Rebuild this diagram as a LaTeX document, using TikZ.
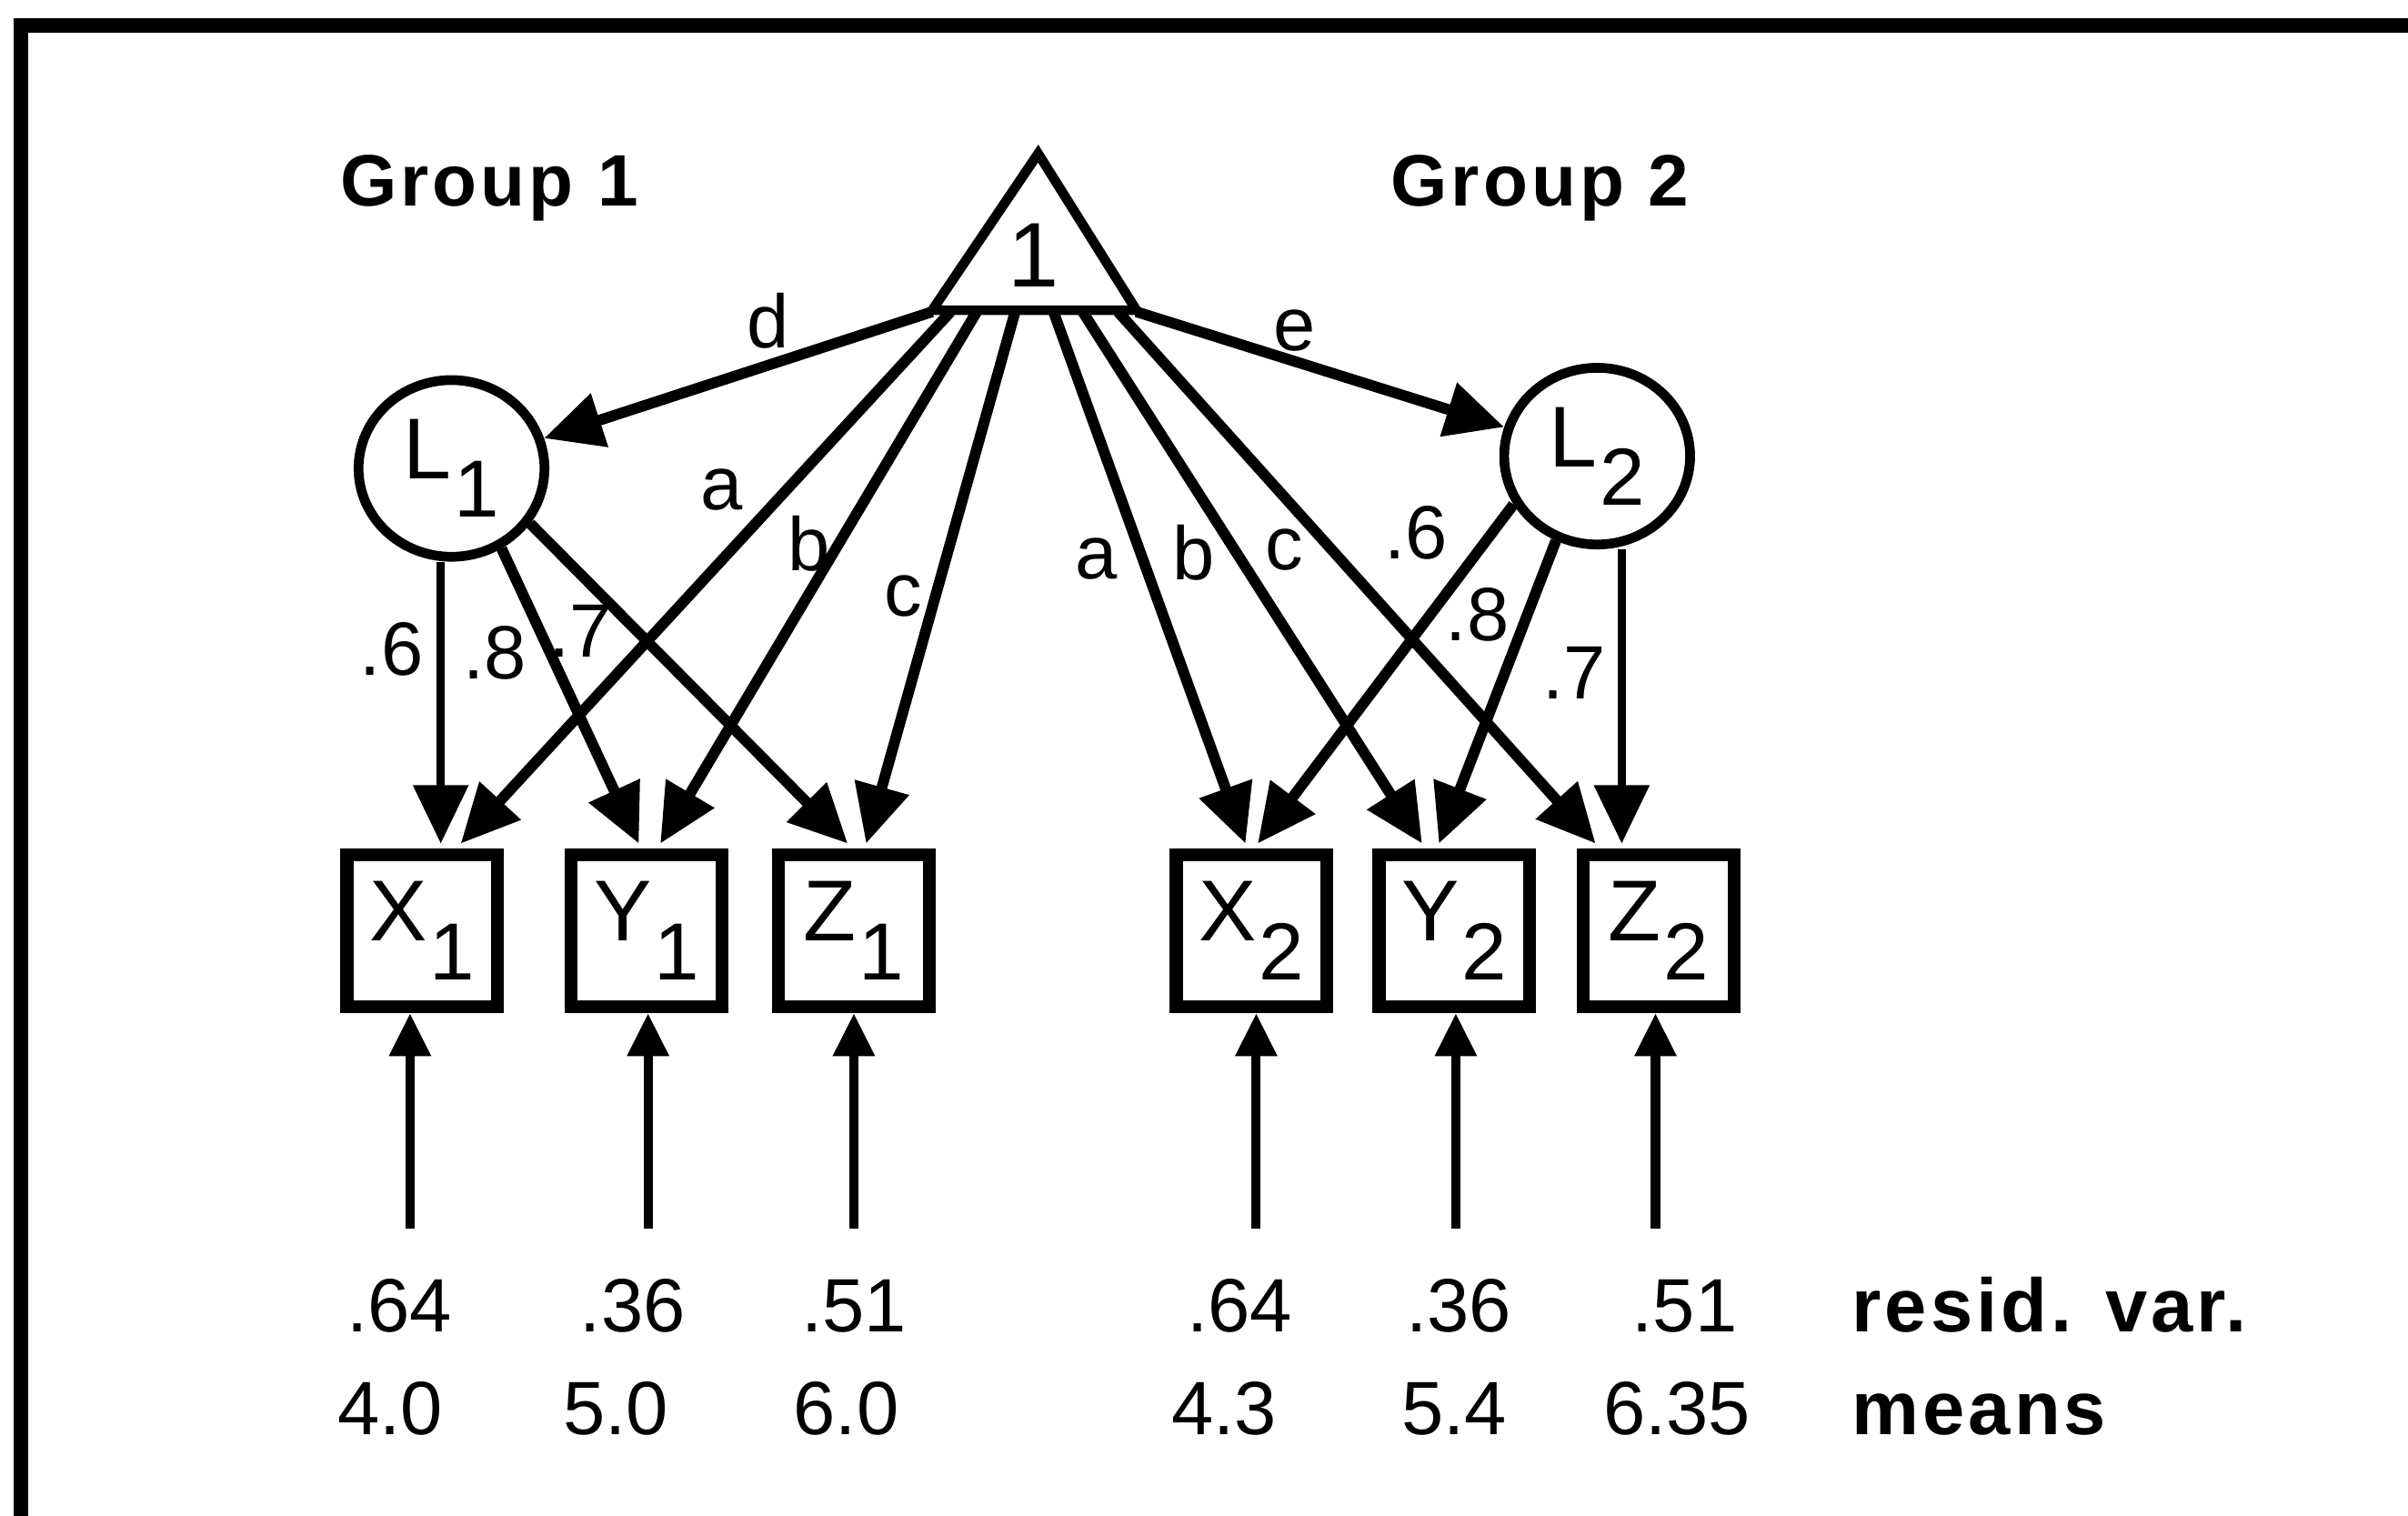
\documentclass[tikz,border=0pt]{standalone}
\usepackage{fontspec}
\setmainfont{Liberation Sans}
\newfontfamily\headfont[LetterSpace=5]{Liberation Sans}
\usetikzlibrary{positioning,calc,shapes.geometric,arrows.meta}

\newcommand{\subvar}[2]{{\fontsize{16}{16}\selectfont #1\kern0.5pt\raisebox{-0.25cm}{\fontsize{15}{15}\selectfont #2}}}

\tikzset{
  obs/.style={draw,line width=2.4pt,minimum width=0.98cm,minimum height=0.99cm,inner sep=0pt},
  lat/.style={draw,ellipse,line width=1.8pt,minimum width=1.21cm,minimum height=1.15cm,inner sep=0pt},
  effect/.style={line width=2pt,-{Triangle[length=3.8mm,width=3.5mm]}},
  resid/.style={line width=1.7pt,-{Triangle[length=2.8mm,width=2.6mm]}},
  lbl/.style={font=\fontsize{14}{14}\selectfont,inner sep=0pt},
  head/.style={font=\headfont\bfseries\fontsize{13.5}{13.5}\selectfont,inner sep=0pt}
}

\begin{document}
\begin{tikzpicture}[x=0.01cm,y=-0.01cm]
  \useasboundingbox (0,0) rectangle (1568,987);
  \draw[line width=2.6pt] (13.5,987) -- (13.5,16.5) -- (1568,16.5);
  % constant
  \draw[line width=1.8pt] (676,100) -- (740,202) -- (607,202) -- cycle;
  \node[font=\fontsize{17}{17}\selectfont,inner sep=0pt] (one) at (673,166) {1};
  \foreach \c/\x in {cd/607,ca1/619,cb1/636,cc1/661,ca2/686,cb2/705,cc2/728,ce/740}
    \coordinate (\c) at (\x,203);
  \node[head,anchor=base west] (grp1) at (221,134) {Group 1};
  \node[head,anchor=base west] (grp2) at (905,134) {Group 2};
  % latent
  \node[lat] (L1) at (294,305) {\subvar{L}{1}};
  \node[lat] (L2) at (1040,297) {\subvar{L}{2}};
  % observed, residuals, values
  \foreach \n/\x/\v/\i/\r/\vx/\vt/\mx/\mt in {X1/275/X/1/267/260/.64/254/4.0,Y1/421/Y/1/422/412/.36/401/5.0,Z1/556/Z/1/556/556/.51/551/6.0,X2/815/X/2/818/807/.64/797/4.3,Y2/947/Y/2/948/950/.36/947/5.4,Z2/1080/Z/2/1078/1097/.51/1092/6.35}
  {
    \node[obs] (\n) at (\x,606) {\subvar{\v}{\i}};
    \coordinate (r\n) at (\r,800);
    \draw[resid] (r\n) -- (r\n |- \n.south);
    \node[lbl,anchor=base] (var\n) at (\vx,867) {\vt};
    \node[lbl,anchor=base] (mean\n) at (\mx,934) {\mt};
  }
  \node[head,font=\headfont\bfseries\fontsize{14}{14}\selectfont,anchor=base west] (varlbl) at (1205,867) {resid. var.};
  \node[head,font=\headfont\bfseries\fontsize{14}{14}\selectfont,anchor=base west] (meanlbl) at (1205,934) {means};
  % arrow tips on the boxes
  \foreach \c/\n/\dx in {tX1l/X1/12,tX1a/X1/25,tY1l/Y1/-5,tY1b/Y1/9,tZ1l/Z1/-4,tZ1c/Z1/8,tX2a/X2/-4,tX2l/X2/4,tY2b/Y2/-21,tY2l/Y2/-10,tZ2c/Z2/-41,tZ2l/Z2/-24}
    \coordinate (\c) at ($(\n.north)+(\dx,-3)$);
  % paths
  \draw[effect] (cd) -- (L1);
  \draw[effect] (ce) -- (L2);
  \foreach \s/\t in {ca1/tX1a,cb1/tY1b,cc1/tZ1c,ca2/tX2a,cb2/tY2b,cc2/tZ2c}
    \draw[effect] (\s) -- (\t);
  \draw[effect,line width=1.5pt] (L1.south -| tX1l) -- (tX1l);
  \draw[effect] (L1.-58) -- (tY1l);
  \draw[effect] (L1.-35) -- (tZ1l);
  \draw[effect] (L2.210) -- (tX2l);
  \draw[effect] (L2.244) -- (tY2l);
  \draw[effect,line width=1.5pt] (L2.south -| tZ2l) -- (tZ2l);
  % path labels
  \foreach \l/\x/\y/\t in {ld/500/209/d,le/843/215/e,la1/470/319/a,lb1/527/354/b,lc1/588/388/c,la2/714/364/a,lb2/777/360/b,lc2/836/358/c,l6a/255/423/.6,l8a/322/425/.8,l7a/378/411/.7,l6b/922/347/.6,l8b/962/400/.8,l7b/1025/438/.7}
    \node[lbl] (\l) at (\x,\y) {\t};
\end{tikzpicture}
\end{document}
